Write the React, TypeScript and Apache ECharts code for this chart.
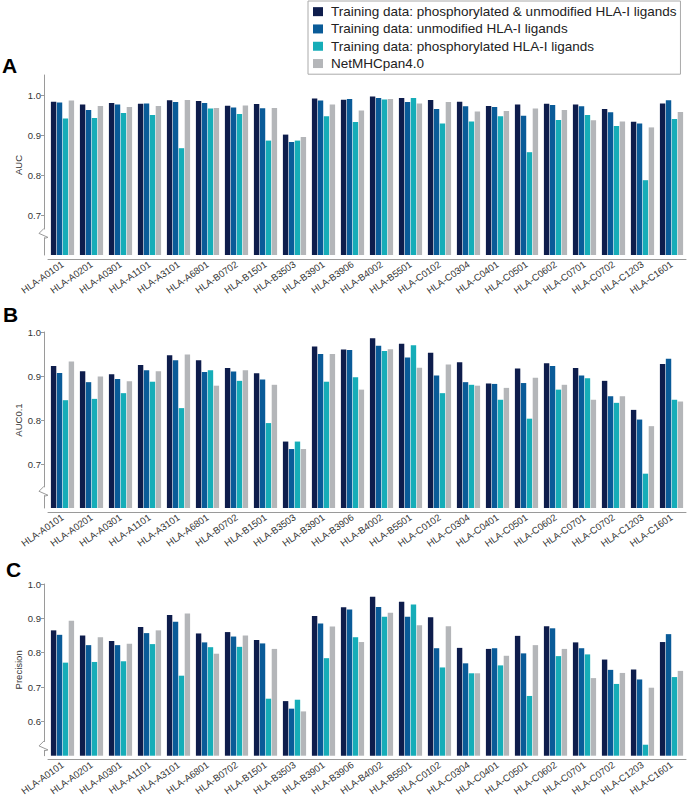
import React, { useEffect, useRef } from "react";
import * as echarts from "echarts";

const categories = [
  "HLA-A0101", "HLA-A0201", "HLA-A0301", "HLA-A1101", "HLA-A3101", "HLA-A6801",
  "HLA-B0702", "HLA-B1501", "HLA-B3503", "HLA-B3901", "HLA-B3906", "HLA-B4002",
  "HLA-B5501", "HLA-C0102", "HLA-C0304", "HLA-C0401", "HLA-C0501", "HLA-C0602",
  "HLA-C0701", "HLA-C0702", "HLA-C1203", "HLA-C1601",
];

const seriesNames = [
  "Training data: phosphorylated & unmodified HLA-I ligands",
  "Training data: unmodified HLA-I ligands",
  "Training data: phosphorylated HLA-I ligands",
  "NetMHCpan4.0",
];

// Panel A: AUC
const aucPhosUnmod = [0.983, 0.976, 0.980, 0.978, 0.987, 0.985, 0.973, 0.9775, 0.901, 0.991, 0.988, 0.996, 0.9925, 0.9875, 0.983, 0.9725, 0.976, 0.978, 0.976, 0.965, 0.933, 0.979];
const aucUnmod = [0.981, 0.9625, 0.976, 0.979, 0.9825, 0.980, 0.969, 0.967, 0.8825, 0.9865, 0.990, 0.9925, 0.9825, 0.965, 0.972, 0.970, 0.948, 0.975, 0.972, 0.957, 0.929, 0.987];
const aucPhos = [0.941, 0.9425, 0.955, 0.950, 0.867, 0.966, 0.9525, 0.886, 0.886, 0.947, 0.9325, 0.989, 0.9925, 0.929, 0.934, 0.947, 0.857, 0.9375, 0.950, 0.9225, 0.787, 0.940];
const aucNet = [0.986, 0.9725, 0.970, 0.9725, 0.9875, 0.9675, 0.974, 0.9675, 0.895, 0.976, 0.961, 0.990, 0.979, 0.9825, 0.959, 0.960, 0.966, 0.9625, 0.937, 0.934, 0.919, 0.9575];

// Panel B: AUC0.1
const auc01PhosUnmod = [0.923, 0.911, 0.904, 0.925, 0.947, 0.936, 0.918, 0.906, 0.751, 0.967, 0.960, 0.986, 0.9735, 0.953, 0.931, 0.883, 0.917, 0.929, 0.918, 0.889, 0.823, 0.927];
const auc01Unmod = [0.907, 0.886, 0.893, 0.913, 0.936, 0.909, 0.910, 0.892, 0.734, 0.950, 0.959, 0.969, 0.942, 0.901, 0.886, 0.882, 0.884, 0.923, 0.901, 0.854, 0.801, 0.939];
const auc01Phos = [0.845, 0.848, 0.861, 0.887, 0.827, 0.913, 0.889, 0.793, 0.751, 0.887, 0.897, 0.957, 0.970, 0.861, 0.880, 0.846, 0.803, 0.869, 0.895, 0.839, 0.678, 0.846];
const auc01Net = [0.933, 0.899, 0.888, 0.911, 0.949, 0.878, 0.913, 0.880, 0.734, 0.950, 0.869, 0.961, 0.919, 0.926, 0.878, 0.873, 0.896, 0.880, 0.846, 0.854, 0.786, 0.842];

// Panel C: Precision
const precPhosUnmod = [0.865, 0.850, 0.834, 0.875, 0.910, 0.856, 0.860, 0.837, 0.659, 0.907, 0.932, 0.963, 0.948, 0.903, 0.814, 0.811, 0.849, 0.877, 0.830, 0.780, 0.751, 0.831];
const precUnmod = [0.852, 0.822, 0.822, 0.857, 0.890, 0.830, 0.847, 0.827, 0.637, 0.885, 0.926, 0.933, 0.905, 0.813, 0.769, 0.813, 0.798, 0.871, 0.813, 0.750, 0.722, 0.854];
const precPhos = [0.771, 0.773, 0.775, 0.825, 0.733, 0.816, 0.817, 0.666, 0.663, 0.784, 0.845, 0.905, 0.940, 0.757, 0.740, 0.763, 0.674, 0.790, 0.795, 0.709, 0.532, 0.729];
const precNet = [0.893, 0.845, 0.826, 0.865, 0.914, 0.797, 0.850, 0.811, 0.629, 0.876, 0.831, 0.916, 0.880, 0.877, 0.740, 0.791, 0.822, 0.811, 0.726, 0.741, 0.698, 0.747];

const aucTicks = [0.7, 0.8, 0.9, 1.0];
const auc01Ticks = [0.7, 0.8, 0.9, 1.0];
const precTicks = [0.6, 0.7, 0.8, 0.9, 1.0];

const COLORS = ["#0e1d4c", "#0a5b98", "#16adb8", "#b4b6b9"];
const FONT = "'Liberation Sans', Arial, sans-serif";
const AXIS_COLOR = "#9a9a9a";
const LABEL_COLOR = "#333";

const GRID_LEFT = 48;
const GRID_WIDTH = 638;

const panels = [
  { letter: "A", name: "AUC", top: 75, height: 180, min: 0.6, max: 1.05, ticks: aucTicks, data: [aucPhosUnmod, aucUnmod, aucPhos, aucNet], breakFrac: 0.12, letterX: 2, letterBottom: 74 },
  { letter: "B", name: "AUC0.1", top: 332, height: 176, min: 0.6, max: 1.0, ticks: auc01Ticks, data: [auc01PhosUnmod, auc01Unmod, auc01Phos, auc01Net], breakFrac: 0.095, letterX: 3, letterBottom: 323 },
  { letter: "C", name: "Precision", top: 584, height: 176, min: 0.5, max: 1.0, ticks: precTicks, data: [precPhosUnmod, precUnmod, precPhos, precNet], breakFrac: 0.08, letterX: 6, letterBottom: 578 },
];

export default function App() {
  const ref = useRef<HTMLDivElement>(null);

  useEffect(() => {
    if (!ref.current) return;
    const chart = echarts.init(ref.current, null, { renderer: "svg" });

    const grid: any[] = [];
    const xAxis: any[] = [];
    const yAxis: any[] = [];
    const series: any[] = [];
    const graphic: any[] = [];

    panels.forEach((p, i) => {
      grid.push({ left: GRID_LEFT, width: GRID_WIDTH, top: p.top, height: p.height, containLabel: false });
      xAxis.push({
        type: "category",
        gridIndex: i,
        data: categories,
        offset: 4,
        axisLine: { lineStyle: { color: AXIS_COLOR, width: 1 } },
        axisTick: { alignWithLabel: true, length: 3, lineStyle: { color: AXIS_COLOR } },
        axisLabel: { rotate: 35, fontSize: 9.5, color: LABEL_COLOR, fontFamily: FONT, margin: 4, interval: 0 },
      });
      yAxis.push({
        type: "value",
        gridIndex: i,
        min: p.min,
        max: p.max,
        interval: 0.1,
        offset: 4,
        name: p.name,
        nameLocation: "middle",
        nameGap: 21,
        nameMoveOverlap: false,
        nameTextStyle: { fontSize: 9.5, color: LABEL_COLOR, fontFamily: FONT },
        splitLine: { show: false },
        axisLine: { show: true, lineStyle: { color: AXIS_COLOR, width: 1 } },
        axisTick: { show: true, length: 3, customValues: p.ticks, lineStyle: { color: AXIS_COLOR } },
        axisLabel: {
          fontSize: 9.5,
          color: LABEL_COLOR,
          fontFamily: FONT,
          margin: 3,
          customValues: p.ticks,
          formatter: (v: number) => (p.ticks.some((t) => Math.abs(t - v) < 1e-6) ? v.toFixed(1) : ""),
        },
      });
      p.data.forEach((arr, k) => {
        series.push({
          type: "bar",
          name: seriesNames[k],
          xAxisIndex: i,
          yAxisIndex: i,
          data: arr,
          barGap: "10%",
          barCategoryGap: "20%",
          itemStyle: { color: COLORS[k] },
          silent: true,
        });
      });

      // panel letter
      graphic.push({
        type: "text",
        left: p.letterX,
        top: p.letterBottom - 19,
        style: { text: p.letter, fontSize: 21, fontWeight: "bold", fill: "#000", fontFamily: FONT },
      });
      // axis break symbol
      const bottom = p.top + p.height;
      const cy = bottom - p.breakFrac * p.height;
      const ax = GRID_LEFT - 4;
      graphic.push({
        type: "rect",
        shape: { x: ax - 2, y: cy - 4, width: 4, height: 8 },
        style: { fill: "#fff" },
        z: 100,
      });
      graphic.push({
        type: "polyline",
        shape: { points: [[ax, cy - 5], [ax - 5, cy], [ax + 4, cy + 4], [ax, cy + 5]] },
        style: { stroke: AXIS_COLOR, lineWidth: 1, fill: "none" },
        z: 101,
      });
    });

    chart.setOption({
      animation: false,
      backgroundColor: "#fff",
      textStyle: { fontFamily: FONT },
      legend: {
        data: seriesNames,
        orient: "vertical",
        left: 308,
        top: 1,
        itemWidth: 10,
        itemHeight: 9,
        itemGap: 2,
        padding: [3, 4, 3, 5],
        borderColor: "#aaa",
        borderWidth: 1,
        icon: "rect",
        selectedMode: false,
        textStyle: { fontSize: 13.5, color: "#222", fontFamily: FONT, lineHeight: 15.3, padding: [0, 0, 0, 3] },
      },
      grid,
      xAxis,
      yAxis,
      series,
      graphic,
    });

    return () => chart.dispose();
  }, []);

  return (
    <div
      ref={ref}
      style={{ position: "fixed", left: 0, top: 0, width: 688, height: 798, background: "#fff" }}
    />
  );
}
